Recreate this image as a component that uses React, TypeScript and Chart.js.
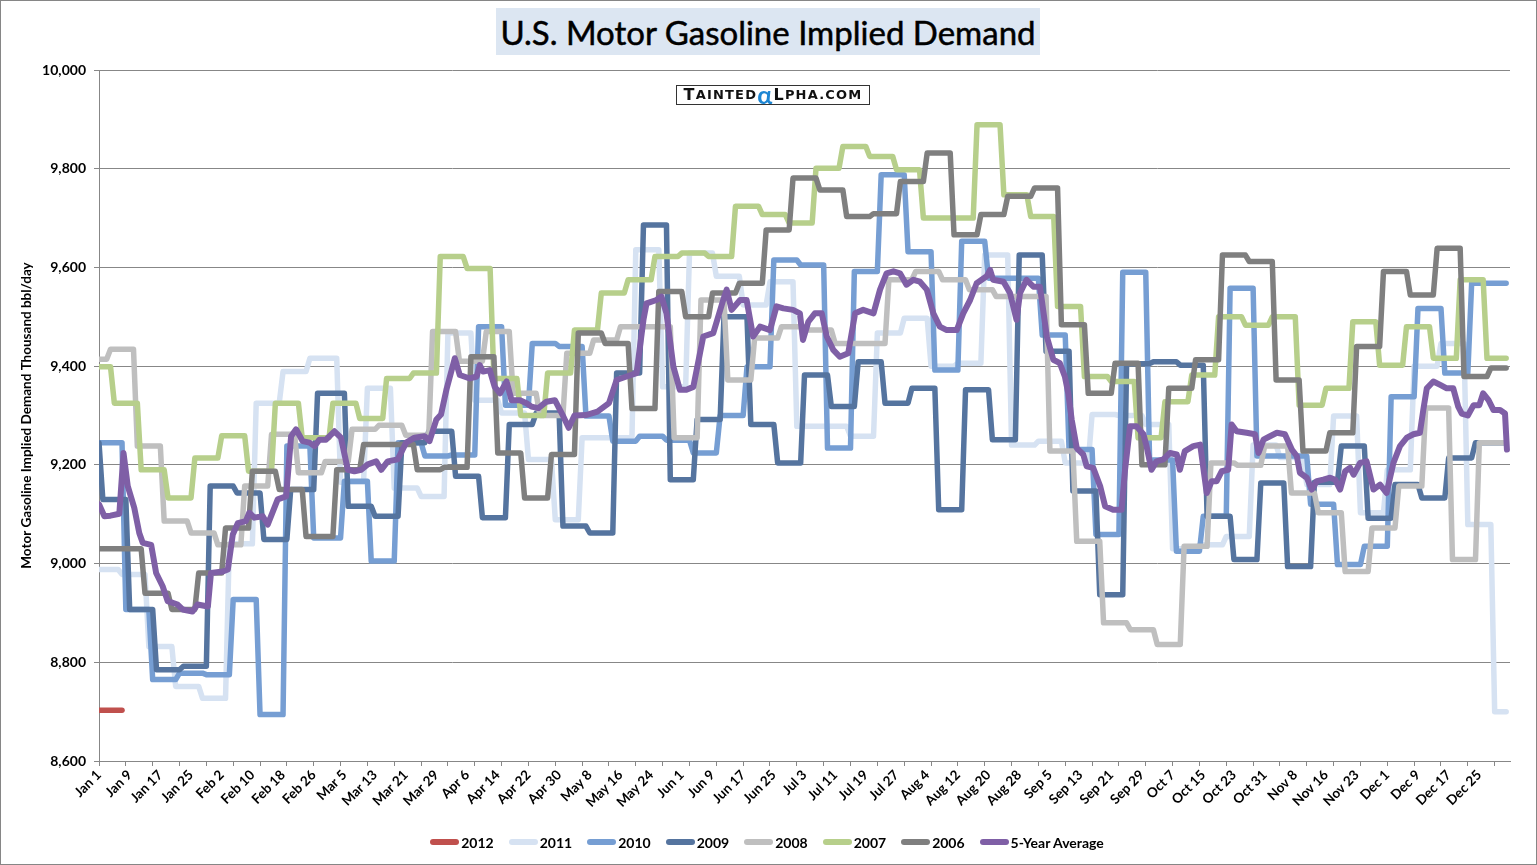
import React, { useEffect, useRef } from 'react';
import { Chart, registerables } from 'chart.js';

Chart.register(...registerables);

// ---------- axis data ----------
const TICK_LABELS = [
  'Jan 1', 'Jan 9', 'Jan 17', 'Jan 25', 'Feb 2', 'Feb 10', 'Feb 18', 'Feb 26',
  'Mar 5', 'Mar 13', 'Mar 21', 'Mar 29', 'Apr 6', 'Apr 14', 'Apr 22', 'Apr 30',
  'May 8', 'May 16', 'May 24', 'Jun 1', 'Jun 9', 'Jun 17', 'Jun 25', 'Jul 3',
  'Jul 11', 'Jul 19', 'Jul 27', 'Aug 4', 'Aug 12', 'Aug 20', 'Aug 28', 'Sep 5',
  'Sep 13', 'Sep 21', 'Sep 29', 'Oct 7', 'Oct 15', 'Oct 23', 'Oct 31', 'Nov 8',
  'Nov 16', 'Nov 23', 'Dec 1', 'Dec 9', 'Dec 17', 'Dec 25',
];
const LABEL_EVERY = 8; // days between date labels
const TICK_EVERY = 7; // days between tick marks
const AXIS_DAYS = 368;
const LAST_DAY = 367;
const Y_MIN = 8600;
const Y_MAX = 10000;
const Y_STEP = 200;

// ---------- weekly series ----------
// first value = level in effect on Jan 1, then one value per weekly (Friday) report of that year
const V2012 = [8703];
const V2011 = [
  8988, 8978, 8832, 8751, 8727, 9040, 9325, 9389, 9416, 9165, 9355, 9153, 9136,
  9467, 9331, 9305, 9211, 9089, 9255, 9255, 9636, 9358, 9629, 9582, 9524, 9571,
  9278, 9278, 9258, 9467, 9497, 9400, 9406, 9625, 9240, 9248, 9204, 9302, 9300,
  9282, 9030, 9038, 9055, 9240, 9215, 9160, 9299, 9103, 9190, 9400, 9446, 9079,
  8700,
];
const V2010 = [
  9245, 8907, 8765, 8778, 8775, 8927, 8694, 9238, 9052, 9167, 9005, 9245, 9218,
  9220, 9480, 9321, 9446, 9440, 9299, 9248, 9258, 9250, 9224, 9300, 9399, 9615,
  9605, 9234, 9592, 9788, 9632, 9392, 9653, 9578, 9578, 9463, 9231, 9059, 9590,
  9210, 9025, 9096, 9558, 9218, 9218, 9120, 8998, 9035, 9338, 9517, 9386, 9568,
  9568,
];
const V2009 = [
  9245, 9130, 8907, 8785, 8792, 9157, 9143, 9049, 9150, 9345, 9116, 9096, 9245,
  9268, 9177, 9093, 9282, 9305, 9076, 9062, 9386, 9686, 9170, 9292, 9500, 9282,
  9204, 9382, 9318, 9409, 9325, 9355, 9109, 9352, 9251, 9625, 9430, 9147, 8937,
  9405, 9409, 9402, 9096, 9008, 9163, 8994, 9165, 9238, 9092, 9160, 9133, 9214,
  9245,
];
const V2008 = [
  9414, 9434, 9238, 9086, 9062, 9038, 9157, 9262, 9184, 9207, 9272, 9280, 9260,
  9470, 9410, 9470, 9345, 9300, 9426, 9453, 9480, 9480, 9255, 9534, 9372, 9457,
  9480, 9473, 9446, 9446, 9575, 9592, 9575, 9555, 9541, 9541, 9228, 9045, 8880,
  8866, 8836, 9035, 9204, 9199, 9238, 9143, 9103, 8984, 9072, 9157, 9315, 9008,
  9245,
];
const V2007 = [
  9399, 9325, 9190, 9133, 9214, 9259, 9187, 9325, 9255, 9325, 9294, 9375, 9386,
  9622, 9598, 9375, 9300, 9386, 9473, 9548, 9575, 9622, 9629, 9622, 9724, 9707,
  9690, 9801, 9845, 9825, 9798, 9700, 9700, 9889, 9747, 9703, 9521, 9379, 9369,
  9255, 9328, 9382, 9500, 9483, 9500, 9321, 9355, 9490, 9402, 9480, 9416, 9575,
  9416,
];
const V2006 = [
  9030, 9030, 8940, 8907, 8981, 9072, 9187, 9150, 9055, 9190, 9241, 9241, 9190,
  9195, 9419, 9224, 9133, 9221, 9467, 9446, 9314, 9551, 9500, 9548, 9568, 9676,
  9781, 9757, 9703, 9709, 9774, 9832, 9666, 9707, 9744, 9761, 9484, 9345, 9406,
  9200, 9355, 9413, 9625, 9612, 9372, 9228, 9265, 9440, 9592, 9544, 9639, 9379,
  9396,
];

// ---------- 5-year average (day of year, value) ----------
const AVG_DAYS = [
  0, 1.4, 3, 5.3, 6.4, 7.5, 9.2, 10.5, 11.4, 13.6, 14.9, 16.6, 17.9, 20.5, 21.8,
  24.4, 25.7, 28.4, 29.2, 32.3, 33.6, 34.9, 36.2, 38.3, 39.2, 40.5, 42.7, 44,
  46.6, 48.8, 50.1, 51.4, 53.1, 54.9, 56.2, 57.5, 59.2, 61.4, 63.1, 64.9, 66.6,
  68.4, 70.1, 72.3, 73.6, 75.3, 77.9, 80.1, 82.3, 84.9, 86.2, 88, 89.2, 90.6,
  92.8, 94.1, 96.7, 98.5, 99.3, 100.2, 101.9, 103.2, 104.6, 106.3, 107.6, 109.8,
  111.5, 112.8, 114.6, 116.7, 118.9, 121.1, 122.5, 124, 127, 130, 133, 135,
  137.6, 140.2, 142, 142.8, 145.4, 146.7, 148, 149.8, 151.5, 153.2, 155, 157.6,
  160.2, 162.8, 163.7, 165, 167.2, 168.9, 170.6, 172.4, 175, 176.7, 178.5, 181,
  182.8, 183.6, 185, 186.7, 188.5, 189.8, 191.5, 193.2, 195.4, 197.2, 199.3, 202,
  203.7, 205.4, 207.2, 208.9, 210.6, 212.4, 214.1, 215.9, 217.6, 219.3, 221.1,
  223.7, 225.4, 227.2, 228.9, 231.5, 232.4, 233.2, 235.9, 237.6, 239.3, 240.2,
  241.9, 243.7, 245.4, 247.2, 248.9, 250.6, 251.9, 252.8, 253.7, 255, 256.7,
  257.6, 259.3, 261.1, 262.4, 264.5, 266.7, 267.6, 268.9, 270.6, 272.4, 273.2,
  274.5, 275.8, 277.6, 279.3, 281.1, 281.9, 283.2, 285.4, 287.2, 288.9, 290.2,
  291.5, 292.8, 294.5, 295.4, 296.7, 299.3, 301.5, 302.4, 303.7, 305.4, 307.2,
  309.3, 311.1, 312.4, 313.2, 315, 316.3, 317.6, 319.3, 321.1, 322.4, 323.7, 325,
  326.3, 327.2, 328.9, 330.6, 332.4, 334.1, 335.8, 337.6, 339.3, 341.1, 342.8,
  344.5, 345.4, 346.3, 348, 349.8, 351.5, 353.2, 354.5, 355.4, 357, 358.5, 360,
  361, 362.4, 363.7, 365.4, 366.7, 367.2,
];
const AVG_VALUES = [
  9120, 9096, 9097, 9101, 9224, 9157, 9113, 9062, 9042, 9038, 8981, 8954, 8924,
  8917, 8907, 8903, 8917, 8913, 8981, 8984, 8988, 9059, 9082, 9086, 9103, 9093,
  9096, 9079, 9130, 9136, 9258, 9272, 9248, 9245, 9238, 9251, 9251, 9268, 9255,
  9190, 9187, 9190, 9201, 9207, 9190, 9207, 9211, 9245, 9255, 9258, 9248, 9292,
  9302, 9352, 9416, 9382, 9375, 9379, 9402, 9389, 9392, 9358, 9345, 9369, 9331,
  9331, 9325, 9318, 9315, 9328, 9331, 9298, 9275, 9300, 9301, 9308, 9325, 9372,
  9379, 9386, 9494, 9527, 9534, 9541, 9507, 9399, 9352, 9352, 9358, 9460, 9467,
  9534, 9555, 9514, 9534, 9534, 9460, 9480, 9473, 9521, 9517, 9514, 9507, 9453,
  9490, 9507, 9507, 9460, 9433, 9419, 9426, 9507, 9514, 9507, 9555, 9588, 9592,
  9588, 9565, 9575, 9571, 9555, 9507, 9480, 9473, 9473, 9507, 9534, 9568, 9582,
  9595, 9575, 9571, 9548, 9494, 9548, 9575, 9561, 9561, 9460, 9413, 9406, 9379,
  9345, 9291, 9234, 9221, 9197, 9194, 9157, 9116, 9109, 9109, 9190, 9278, 9278,
  9262, 9238, 9190, 9207, 9211, 9224, 9221, 9190, 9228, 9238, 9241, 9143, 9167,
  9167, 9187, 9190, 9282, 9268, 9265, 9262, 9224, 9251, 9258, 9265, 9262, 9231,
  9218, 9184, 9174, 9150, 9167, 9170, 9174, 9170, 9150, 9187, 9194, 9180, 9204,
  9207, 9150, 9160, 9143, 9204, 9238, 9255, 9262, 9265, 9312, 9355, 9369, 9362,
  9355, 9355, 9318, 9304, 9300, 9321, 9321, 9345, 9331, 9311, 9311, 9304, 9231,
];

const SERIES = [
  { label: '2012', color: '#C0504D', values: V2012, year: 2012, firstFriday: 0, endDay: 6 },
  { label: '2011', color: '#D6E2F2', values: V2011, year: 2011, firstFriday: 7, endDay: LAST_DAY },
  { label: '2010', color: '#769ED3', values: V2010, year: 2010, firstFriday: 8, endDay: LAST_DAY },
  { label: '2009', color: '#55749F', values: V2009, year: 2009, firstFriday: 2, endDay: LAST_DAY },
  { label: '2008', color: '#BFBFBF', values: V2008, year: 2008, firstFriday: 4, endDay: LAST_DAY },
  { label: '2007', color: '#B7CF8B', values: V2007, year: 2007, firstFriday: 5, endDay: LAST_DAY },
  { label: '2006', color: '#7F7F7F', values: V2006, year: 2006, firstFriday: 6, endDay: LAST_DAY },
];
const AVG_LABEL = '5-Year Average';
const AVG_COLOR = '#7F5FA6';

const DAY_MS = 86400000;
const BASE = Date.UTC(2012, 0, 1);
function toAxisDay(year: number, month: number, date: number) {
  const real = new Date(Date.UTC(year, month, date));
  return (Date.UTC(2012, real.getUTCMonth(), real.getUTCDate()) - BASE) / DAY_MS;
}

function buildWeekly(values: number[], year: number, firstFriday: number, endDay: number) {
  const starts = [0];
  for (let k = 1; k < values.length; k++) starts.push(toAxisDay(year, 0, firstFriday + 7 * (k - 1)));
  const pts: { x: number; y: number }[] = [];
  values.forEach((v, k) => {
    const a = starts[k];
    const b = k + 1 < values.length ? starts[k + 1] - 1 : endDay;
    pts.push({ x: a, y: v });
    if (b > a) pts.push({ x: b, y: v });
  });
  return pts;
}

const TICK_DAYS: number[] = [];
for (let d = 0; d <= AXIS_DAYS; d++) {
  if ((d % TICK_EVERY === 0 && d < AXIS_DAYS) || (d % LABEL_EVERY === 0 && d / LABEL_EVERY < TICK_LABELS.length)) TICK_DAYS.push(d);
}

const FONT = 'Lato, "Open Sans", sans-serif';
const GRID = '#878787';

export default function App() {
  const ref = useRef<HTMLCanvasElement | null>(null);

  useEffect(() => {
    let chart: Chart | null = null;
    let cancelled = false;
    const make = () => {
      if (cancelled || !ref.current) return;
      const datasets: any[] = SERIES.map((s, i) => ({
        label: s.label,
        data: buildWeekly(s.values, s.year, s.firstFriday, s.endDay),
        borderColor: s.color,
        backgroundColor: s.color,
        borderWidth: 5.5,
        pointRadius: 0,
        tension: 0,
        fill: false,
        borderCapStyle: 'round',
        borderJoinStyle: 'round',
        order: SERIES.length - i,
      }));
      datasets.push({
        label: AVG_LABEL,
        data: AVG_DAYS.map((d, i) => ({ x: d, y: AVG_VALUES[i] })),
        borderColor: AVG_COLOR,
        backgroundColor: AVG_COLOR,
        borderWidth: 6,
        pointRadius: 0,
        tension: 0,
        fill: false,
        borderCapStyle: 'round',
        borderJoinStyle: 'round',
        order: 0,
      });
      chart = new Chart(ref.current, {
        type: 'line',
        data: { datasets },
        options: {
          animation: false,
          responsive: false,
          events: [],
          layout: { padding: { left: 0, top: 70, right: 27, bottom: 0 } },
          plugins: { legend: { display: false }, tooltip: { enabled: false }, title: { display: false } },
          scales: {
            x: {
              type: 'linear',
              min: 0,
              max: AXIS_DAYS,
              afterBuildTicks: (scale: any) => {
                scale.ticks = TICK_DAYS.map((v) => ({ value: v }));
              },
              afterFit: (scale: any) => {
                scale.height = 104;
              },
              ticks: {
                autoSkip: false,
                minRotation: 45,
                maxRotation: 45,
                padding: 1,
                color: '#000',
                font: { family: FONT, size: 13.5, weight: 'bold' },
                callback: (v: any) => {
                  const n = Number(v);
                  return n % LABEL_EVERY === 0 ? TICK_LABELS[n / LABEL_EVERY] ?? '' : '';
                },
              },
              grid: {
                drawOnChartArea: false,
                tickLength: 5,
                tickColor: (ctx: any) => (ctx.tick && ctx.tick.value % TICK_EVERY === 0 ? GRID : 'rgba(0,0,0,0)'),
              },
              border: { display: true, color: GRID, width: 1 },
            },
            y: {
              min: Y_MIN,
              max: Y_MAX,
              afterFit: (scale: any) => {
                scale.width = 99;
              },
              ticks: {
                stepSize: Y_STEP,
                padding: 8,
                color: '#000',
                font: { family: FONT, size: 14, weight: 'bold' },
                callback: (v: any) => Number(v).toLocaleString('en-US'),
              },
              grid: { color: GRID, lineWidth: 1, tickLength: 5, tickColor: GRID },
              border: { display: true, color: GRID, width: 1 },
              title: {
                display: true,
                text: 'Motor Gasoline Implied Demand Thousand bbl/day',
                color: '#000',
                font: { family: FONT, size: 13.5, weight: 'bold' },
                padding: { top: 19, bottom: 0 },
              },
            },
          },
        },
      } as any);
    };
    const fontsReady = (document as any).fonts
      ? Promise.all([
          (document as any).fonts.load('bold 13px Lato'),
          (document as any).fonts.load('32px Lato'),
        ]).catch(() => null)
      : Promise.resolve(null);
    fontsReady.then(make);
    return () => {
      cancelled = true;
      if (chart) chart.destroy();
    };
  }, []);

  const legendItems = [...SERIES.map((s) => ({ label: s.label, color: s.color })), { label: AVG_LABEL, color: AVG_COLOR }];

  return (
    <div style={{ position: 'fixed', left: 0, top: 0, width: 1537, height: 865, background: '#fff', overflow: 'hidden', fontFamily: FONT }}>
      <canvas ref={ref} width={1537} height={865} style={{ position: 'absolute', left: 0, top: 0, width: 1537, height: 865 }} />
      <div
        style={{
          position: 'absolute', left: 496, top: 8, width: 544, height: 47, background: '#DCE6F2',
          display: 'flex', alignItems: 'center', justifyContent: 'center',
          fontFamily: FONT, fontSize: 33, color: '#000', whiteSpace: 'nowrap',
          WebkitTextStroke: '0.5px #000',
        }}
      >
        U.S. Motor Gasoline Implied Demand
      </div>
      <div
        style={{
          position: 'absolute', left: 676, top: 85, width: 194, height: 20, background: '#fff',
          border: '1px solid #333', boxSizing: 'border-box', display: 'flex', alignItems: 'center',
          justifyContent: 'center', fontFamily: '"DejaVu Sans", sans-serif', color: '#111',
          whiteSpace: 'nowrap', letterSpacing: 1.2, fontWeight: 600, lineHeight: '18px',
        }}
      >
        <span style={{ fontSize: 16 }}>T</span>
        <span style={{ fontSize: 13 }}>AINTED</span>
        <span style={{ fontSize: 25, color: '#1D86D3', fontFamily: 'Lato, sans-serif', fontWeight: 700, lineHeight: '18px', margin: '0 0 2px 0' }}>α</span>
        <span style={{ fontSize: 16 }}>L</span>
        <span style={{ fontSize: 13 }}>PHA.COM</span>
      </div>
      <div
        style={{
          position: 'absolute', left: 6, top: 832, width: 1537, height: 20, display: 'flex',
          justifyContent: 'center', alignItems: 'center', fontFamily: FONT, fontWeight: 700, fontSize: 14, color: '#000',
        }}
      >
        {legendItems.map((it) => (
          <div key={it.label} style={{ display: 'flex', alignItems: 'center', marginRight: 15 }}>
            <span style={{ display: 'inline-block', width: 29, height: 6, borderRadius: 3, background: it.color, marginRight: 2 }} />
            <span>{it.label}</span>
          </div>
        ))}
      </div>
      <div style={{ position: 'absolute', inset: 0, border: '1px solid #868686', pointerEvents: 'none' }} />
    </div>
  );
}
